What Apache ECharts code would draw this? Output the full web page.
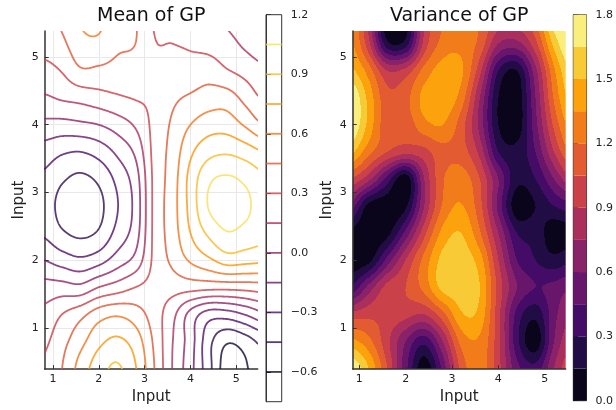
<!DOCTYPE html>
<html><head><meta charset="utf-8">
<script src="https://cdn.jsdelivr.net/npm/echarts@6/dist/echarts.min.js"></script>
<style>html,body{margin:0;padding:0;background:#fff}#c{width:616px;height:410px}</style>
</head><body><div id="c"></div>
<script>
// ---------------- data ----------------
const xNodes = [0.8,1.2,1.6,2.0,2.4,2.8,3.2,3.6,4.0,4.4,4.8,5.2,5.6];
const yNodes = [0.4,0.8,1.2,1.6,2.0,2.4,2.8,3.2,3.6,4.0,4.4,4.8,5.2,5.6];
// GP mean, rows = yNodes (bottom to top), columns = xNodes
const meanZ = [
 [0.32,0.45,0.66,0.83,0.92,0.76,0.46,0.15,-0.10,-0.40,-0.68,-0.62,-0.45],
 [0.27,0.40,0.55,0.71,0.78,0.68,0.43,0.16,-0.08,-0.40,-0.58,-0.52,-0.40],
 [0.19,0.30,0.40,0.53,0.58,0.52,0.38,0.20,-0.05,-0.22,-0.22,-0.14,-0.03],
 [0.06,0.06,0.04,0.15,0.22,0.30,0.35,0.36,0.36,0.35,0.35,0.36,0.38],
 [-0.15,-0.22,-0.27,-0.21,-0.08,0.05,0.33,0.48,0.62,0.72,0.82,0.80,0.78],
 [-0.32,-0.43,-0.48,-0.43,-0.25,-0.07,0.33,0.52,0.75,0.93,1.04,1.00,0.95],
 [-0.37,-0.50,-0.54,-0.49,-0.31,-0.10,0.33,0.53,0.80,1.06,1.13,1.08,0.98],
 [-0.33,-0.43,-0.48,-0.42,-0.26,-0.07,0.33,0.52,0.80,1.02,1.07,1.02,0.93],
 [-0.22,-0.28,-0.30,-0.24,-0.12,0.03,0.34,0.50,0.72,0.85,0.88,0.83,0.75],
 [-0.04,-0.05,-0.03,0.00,0.07,0.17,0.34,0.47,0.60,0.68,0.68,0.58,0.45],
 [0.13,0.17,0.20,0.24,0.28,0.31,0.33,0.42,0.47,0.52,0.52,0.40,0.28],
 [0.25,0.31,0.43,0.42,0.40,0.38,0.33,0.36,0.36,0.38,0.31,0.25,0.18],
 [0.36,0.42,0.55,0.57,0.48,0.45,0.31,0.30,0.28,0.25,0.20,0.12,0.05],
 [0.42,0.48,0.62,0.63,0.52,0.46,0.29,0.25,0.22,0.18,0.12,0.05,-0.02]
];
// GP variance, rows = yNodes (bottom to top), columns = xNodes
const varZ = [
 [1.80,1.50,1.05,0.50,0.05,0.50,1.10,1.28,0.95,0.50,0.35,0.75,1.05],
 [1.40,1.25,0.95,0.60,0.35,0.75,1.25,1.32,0.95,0.35,0.05,0.60,0.90],
 [0.95,1.00,1.00,0.95,0.90,1.15,1.48,1.45,0.95,0.40,0.20,0.55,0.75],
 [0.30,0.65,0.95,1.05,1.25,1.55,1.58,1.50,1.00,0.60,0.45,0.50,0.60],
 [0.05,0.10,0.50,0.90,1.25,1.55,1.58,1.42,0.90,0.45,0.30,0.20,0.30],
 [0.10,0.03,0.10,0.50,1.00,1.40,1.50,1.22,0.75,0.30,0.25,0.05,0.10],
 [0.55,0.10,0.03,0.12,0.75,1.22,1.36,1.10,0.55,0.05,0.15,0.30,0.40],
 [1.05,0.80,0.40,0.05,0.75,1.18,1.28,1.05,0.60,0.20,0.30,0.60,0.90],
 [1.55,1.25,1.05,0.95,1.00,1.15,1.12,0.85,0.30,0.20,0.45,0.90,1.25],
 [1.82,1.45,1.10,1.10,1.30,1.35,1.12,0.70,0.15,0.05,0.55,1.08,1.45],
 [1.82,1.45,1.10,1.15,1.40,1.45,1.28,0.75,0.15,0.05,0.60,1.22,1.58],
 [1.55,1.28,0.90,0.95,1.25,1.42,1.38,0.95,0.30,0.15,0.70,1.32,1.70],
 [1.40,0.95,0.20,0.22,0.95,1.25,1.30,1.15,0.75,0.70,1.00,1.55,1.85],
 [1.40,0.85,0.00,0.05,0.90,1.20,1.28,1.20,1.00,1.00,1.20,1.75,1.90]
];
const meanLevels = [-0.6,-0.45,-0.3,-0.15,0.0,0.15,0.3,0.45,0.6,0.75,0.9,1.05];
const varLevels = [0,0.15,0.3,0.45,0.6,0.75,0.9,1.05,1.2,1.35,1.5,1.65,1.8];
const axisTicks = [1,2,3,4,5];
const meanBarTicks = [-0.6,-0.3,0.0,0.3,0.6,0.9,1.2];
const varBarTicks = [0.0,0.3,0.6,0.9,1.2,1.5,1.8];
const meanXRange = [0.82,5.467], meanYRange = [0.39,5.385];
const varXRange = [0.858,5.453], varYRange = [0.39,5.385];
const meanBarRange = [-0.75,1.2], varBarRange = [0,1.8];
const titles = ['Mean of GP','Variance of GP'];

// ---------------- helpers ----------------
const FONT = 'DejaVu Sans';
const TXT = '#222';
const INFERNO = ["#000004","#1b0c41","#4a0c6b","#781c6d","#a52c60","#cf4446","#ed6925","#fb9b06","#f7d13d","#fcffa4"];
function hex(h){return [parseInt(h.slice(1,3),16),parseInt(h.slice(3,5),16),parseInt(h.slice(5,7),16)];}
function inferno(t){
  t=Math.max(0,Math.min(1,t));
  const s=t*(INFERNO.length-1), i=Math.min(INFERNO.length-2,Math.floor(s)), f=s-i;
  const a=hex(INFERNO[i]), b=hex(INFERNO[i+1]);
  return 'rgb('+[0,1,2].map(k=>Math.round(a[k]+(b[k]-a[k])*f)).join(',')+')';
}
const lineColors = meanLevels.map(v=>inferno((v-meanBarRange[0])/(meanBarRange[1]-meanBarRange[0])));
const bandColors = varLevels.slice(0,-1).map((v,i)=>inferno((v+varLevels[i+1])/2/varBarRange[1]));

function cr(p0,p1,p2,p3,t){
  return 0.5*(2*p1+(-p0+p2)*t+(2*p0-5*p1+4*p2-p3)*t*t+(-p0+3*p1-3*p2+p3)*t*t*t);
}
function makeField(xs,ys,Z){
  const nx=xs.length, ny=ys.length, dx=xs[1]-xs[0], dy=ys[1]-ys[0];
  const g=(j,i)=>Z[Math.max(0,Math.min(ny-1,j))][Math.max(0,Math.min(nx-1,i))];
  return function(x,y){
    const fx=(x-xs[0])/dx, fy=(y-ys[0])/dy;
    const i=Math.min(nx-2,Math.max(0,Math.floor(fx))), j=Math.min(ny-2,Math.max(0,Math.floor(fy)));
    const tx=fx-i, ty=fy-j, r=[];
    for(let m=-1;m<=2;m++) r.push(cr(g(j+m,i-1),g(j+m,i),g(j+m,i+1),g(j+m,i+2),tx));
    return cr(r[0],r[1],r[2],r[3],ty);
  };
}
const meanField = makeField(xNodes,yNodes,meanZ);
const varField = makeField(xNodes,yNodes,varZ);

function march(F,gx,gy,lv){
  const segs=[];
  const ny=gy.length, nx=gx.length;
  for(let j=0;j<ny-1;j++) for(let i=0;i<nx-1;i++){
    const v=[F[j][i],F[j][i+1],F[j+1][i+1],F[j+1][i]];
    const a=v.map(q=>q>lv);
    const idx=(a[0]?1:0)|(a[1]?2:0)|(a[2]?4:0)|(a[3]?8:0);
    if(idx===0||idx===15) continue;
    const ep=e=>{
      let p,q,k,xa,ya,xb,yb;
      if(e===0){p=v[0];q=v[1];xa=gx[i];ya=gy[j];xb=gx[i+1];yb=gy[j];k='h'+i+'_'+j;}
      else if(e===1){p=v[1];q=v[2];xa=gx[i+1];ya=gy[j];xb=gx[i+1];yb=gy[j+1];k='v'+(i+1)+'_'+j;}
      else if(e===2){p=v[3];q=v[2];xa=gx[i];ya=gy[j+1];xb=gx[i+1];yb=gy[j+1];k='h'+i+'_'+(j+1);}
      else {p=v[0];q=v[3];xa=gx[i];ya=gy[j];xb=gx[i];yb=gy[j+1];k='v'+i+'_'+j;}
      const t=(lv-p)/(q-p);
      return {x:xa+(xb-xa)*t,y:ya+(yb-ya)*t,k:k};
    };
    const cs=[];
    if(a[0]!==a[1]) cs.push(0);
    if(a[1]!==a[2]) cs.push(1);
    if(a[2]!==a[3]) cs.push(2);
    if(a[3]!==a[0]) cs.push(3);
    if(cs.length===2) segs.push([ep(cs[0]),ep(cs[1])]);
    else {
      const c=(v[0]+v[1]+v[2]+v[3])/4;
      if((idx===5)===(c>lv)){segs.push([ep(0),ep(1)]);segs.push([ep(2),ep(3)]);}
      else {segs.push([ep(0),ep(3)]);segs.push([ep(1),ep(2)]);}
    }
  }
  return segs;
}
function joinSegs(segs){
  const map=new Map();
  segs.forEach((s,k)=>{for(let e=0;e<2;e++){const key=s[e].k;if(!map.has(key))map.set(key,[]);map.get(key).push(k);}});
  const used=new Uint8Array(segs.length), lines=[];
  for(let k=0;k<segs.length;k++){
    if(used[k]) continue; used[k]=1;
    let line=[segs[k][0],segs[k][1]];
    for(let dir=0;dir<2;dir++){
      let cur=line[line.length-1];
      while(true){
        const c=(map.get(cur.k)||[]).find(n=>!used[n]);
        if(c===undefined) break;
        used[c]=1;
        const s=segs[c], o=s[0].k===cur.k?s[1]:s[0];
        line.push(o); cur=o;
      }
      line.reverse();
    }
    lines.push(line);
  }
  return lines;
}
const NX=260, NY=400, gx=[], gy=[];
for(let i=0;i<NX;i++) gx.push(meanXRange[0]+(meanXRange[1]-meanXRange[0])*i/(NX-1));
for(let j=0;j<NY;j++) gy.push(meanYRange[0]+(meanYRange[1]-meanYRange[0])*j/(NY-1));
const FM=gy.map(y=>gx.map(x=>meanField(x,y)));
const meanContours=meanLevels.map(lv=>joinSegs(march(FM,gx,gy,lv)));

function bandOf(v){return Math.max(0,Math.min(varLevels.length-2,Math.floor((v-varLevels[0])/(varLevels[1]-varLevels[0]))));}
function fmtBar(v){const s=Math.abs(v).toFixed(1);return (v<-1e-9?'\u2212':'')+s;}

function mainX(gi,r){
  return {gridIndex:gi,type:'value',min:r[0],max:r[1],z:gi===1?10:0,
    name:'Input',nameLocation:'middle',nameGap:18,
    nameTextStyle:{fontFamily:FONT,fontSize:15,color:TXT},
    axisLine:{show:true,onZero:false,lineStyle:{color:'#333',width:1.5}},
    axisTick:{show:true,inside:true,length:4,customValues:axisTicks,lineStyle:{color:'#333',width:1}},
    axisLabel:{customValues:axisTicks,fontFamily:FONT,fontSize:11,color:TXT,margin:5,formatter:v=>String(v)},
    splitLine:{show:gi===0,lineStyle:{color:'#e8e8e8',width:1}}};
}
function mainY(gi,r){
  return {gridIndex:gi,type:'value',min:r[0],max:r[1],z:gi===1?10:0,
    name:'Input',nameLocation:'middle',nameGap:18,
    nameTextStyle:{fontFamily:FONT,fontSize:15,color:TXT},
    axisLine:{show:true,onZero:false,lineStyle:{color:'#333',width:1.5}},
    axisTick:{show:true,inside:true,length:4,customValues:axisTicks,lineStyle:{color:'#333',width:1}},
    axisLabel:{customValues:axisTicks,fontFamily:FONT,fontSize:11,color:TXT,margin:6,formatter:v=>String(v)},
    splitLine:{show:gi===0,lineStyle:{color:'#e8e8e8',width:1}}};
}
function barY(gi,r,ticks){
  return {gridIndex:gi,type:'value',position:'right',min:r[0],max:r[1],
    axisLine:{show:true,lineStyle:{color:'#333',width:1}},
    axisTick:{show:true,inside:false,length:5,customValues:ticks,lineStyle:{color:'#333',width:1}},
    axisLabel:{customValues:ticks,fontFamily:FONT,fontSize:11,color:TXT,margin:9,formatter:fmtBar},
    splitLine:{show:false}};
}

const option={
  animation:false,
  backgroundColor:'#ffffff',
  grid:[
    {left:44.7,top:31,width:213,height:341.7},
    {left:352.7,top:31,width:213,height:341.7},
    {left:266,top:14.7,width:15.7,height:387,show:true,borderColor:'#333',borderWidth:1,backgroundColor:'#fff'},
    {left:573.3,top:14.7,width:16,height:386,show:true,borderColor:'#333',borderWidth:1}
  ],
  xAxis:[mainX(0,meanXRange),mainX(1,varXRange),
    {gridIndex:2,type:'value',min:0,max:1,show:false},
    {gridIndex:3,type:'value',min:0,max:1,show:false}],
  yAxis:[mainY(0,meanYRange),mainY(1,varYRange),barY(2,meanBarRange,meanBarTicks),barY(3,varBarRange,varBarTicks)],
  graphic:titles.map((t,i)=>({type:'text',x:i===0?151.2:459.2,y:16.5,
    style:{text:t,fill:'#111',font:'19px "DejaVu Sans"',align:'center',verticalAlign:'middle'}})),
  series:[
    {type:'custom',xAxisIndex:0,yAxisIndex:0,clip:true,
     data:meanLevels.map((v,i)=>[i,v]),
     renderItem:(params,api)=>{
       const k=params.dataIndex;
       return {type:'group',children:meanContours[k].map(line=>({
         type:'polyline',shape:{points:line.map(p=>api.coord([p.x,p.y]))},
         style:{stroke:lineColors[k],lineWidth:1.8,fill:null,opacity:0.8,lineJoin:'round',lineCap:'round'},silent:true}))};
     }},
    {type:'custom',xAxisIndex:1,yAxisIndex:1,clip:true,
     data:[[varXRange[0],varYRange[0]]],
     renderItem:(params,api)=>{
       const tl=api.coord([varXRange[0],varYRange[1]]), br=api.coord([varXRange[1],varYRange[0]]);
       const W=br[0]-tl[0], H=br[1]-tl[1], ch=[];
       const rect=(x,y,w,h,b)=>({type:'rect',shape:{x:x,y:y,width:w+0.35,height:h},style:{fill:bandColors[b]},silent:true});
       for(let py=Math.floor(tl[1]);py<Math.ceil(br[1]);py++){
         const top=Math.max(py,tl[1]), bot=Math.min(py+1,br[1]); if(bot<=top) continue;
         const yv=varYRange[1]-((top+bot)/2-tl[1])/H*(varYRange[1]-varYRange[0]);
         let rs=tl[0], rb=-1;
         for(let px=Math.floor(tl[0]);px<Math.ceil(br[0]);px++){
           const l=Math.max(px,tl[0]), r=Math.min(px+1,br[0]); if(r<=l) continue;
           const xv=varXRange[0]+((l+r)/2-tl[0])/W*(varXRange[1]-varXRange[0]);
           const b=bandOf(varField(xv,yv));
           if(b!==rb){ if(rb>=0) ch.push(rect(rs,top,l-rs,bot-top,rb)); rs=l; rb=b; }
         }
         ch.push(rect(rs,top,br[0]-rs-0.35,bot-top,rb));
       }
       return {type:'group',children:ch};
     }},
    {type:'custom',xAxisIndex:2,yAxisIndex:2,
     data:meanLevels.map(v=>[0.5,v]),
     renderItem:(params,api)=>{
       const v=meanLevels[params.dataIndex];
       const a=api.coord([0,v]), b=api.coord([1,v]);
       return {type:'line',shape:{x1:a[0],y1:a[1],x2:b[0],y2:b[1]},style:{stroke:lineColors[params.dataIndex],lineWidth:1.8,opacity:0.8}};
     }},
    {type:'custom',xAxisIndex:3,yAxisIndex:3,
     data:bandColors.map((c,i)=>[0.5,varLevels[i]]),
     renderItem:(params,api)=>{
       const i=params.dataIndex;
       const a=api.coord([0,varLevels[i+1]]), b=api.coord([1,varLevels[i]]);
       return {type:'rect',shape:{x:a[0],y:a[1],width:b[0]-a[0],height:b[1]-a[1]},style:{fill:bandColors[i]}};
     }}
  ]
};
const chart=echarts.init(document.getElementById('c'),null,{renderer:'canvas'});
chart.setOption(option);
</script>
</body></html>
